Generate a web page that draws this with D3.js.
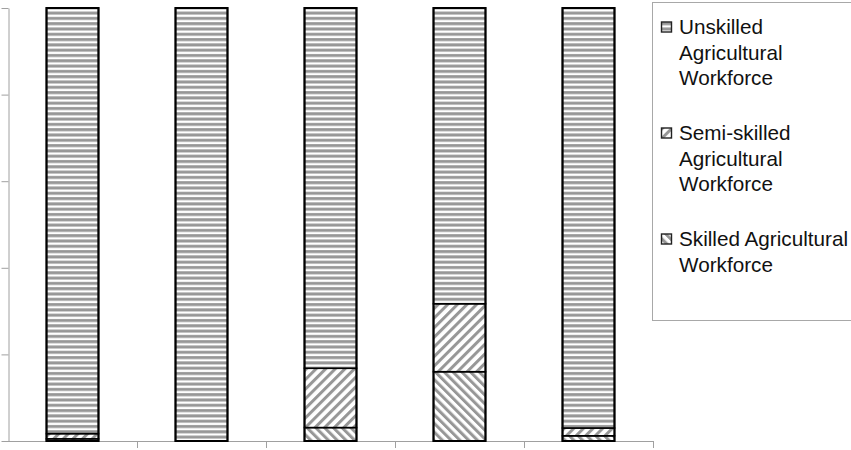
<!DOCTYPE html>
<meta charset="utf-8">
<title>Agricultural workforce</title>
<style>
  body { margin: 0; background: #fff; }
  .axis path, .axis line { stroke: #a0a0a0; stroke-width: 1px; }
  .legend text { font-family: 'Liberation Sans', Arial, sans-serif; font-size: 20.7px; fill: #111; }
</style>
<svg width="851" height="450"></svg>
<script src="https://cdn.jsdelivr.net/npm/d3@7"></script>
<script>

// values, percent of workforce per bar
var categories = ["A", "B", "C", "D", "E"];
var skilled     = [0.5, 0,   3.1,  16.0, 1.2];
var semiSkilled = [1.2, 0,   13.7, 15.7, 1.8];
var unskilled   = [98.3, 100, 83.2, 68.3, 97.0];
var yTicks = [0, 20, 40, 60, 80, 100];

var seriesKeys = ["skilled", "semi", "unskilled"];
var legendItems = [
  { key: "unskilled", lines: ["Unskilled", "Agricultural", "Workforce"] },
  { key: "semi", lines: ["Semi-skilled", "Agricultural", "Workforce"] },
  { key: "skilled", lines: ["Skilled Agricultural", "Workforce"] }
];

var rows = categories.map(function (c, i) {
  return { cat: c, skilled: skilled[i], semi: semiSkilled[i], unskilled: unskilled[i] };
});

var svg = d3.select("svg"),
    margin = { left: 8, top: 8 },
    plotW = 645,
    plotH = 433;

var defs = svg.append("defs");
var stripe = "#979797";

// horizontal stripes
var ph = defs.append("pattern").attr("id", "p-unskilled")
    .attr("patternUnits", "userSpaceOnUse").attr("width", 10).attr("height", 5.3);
ph.append("rect").attr("width", 10).attr("height", 5.3).attr("fill", "#fff");
ph.append("rect").attr("y", 1).attr("width", 10).attr("height", 3).attr("fill", stripe);

// "/" stripes
var ps = defs.append("pattern").attr("id", "p-semi")
    .attr("patternUnits", "userSpaceOnUse").attr("width", 6.8).attr("height", 10)
    .attr("patternTransform", "rotate(45)");
ps.append("rect").attr("width", 6.8).attr("height", 10).attr("fill", "#fff");
ps.append("rect").attr("width", 3).attr("height", 10).attr("fill", stripe);

// "\" stripes
var pk = defs.append("pattern").attr("id", "p-skilled")
    .attr("patternUnits", "userSpaceOnUse").attr("width", 6.2).attr("height", 10)
    .attr("patternTransform", "rotate(-45)");
pk.append("rect").attr("width", 6.2).attr("height", 10).attr("fill", "#fff");
pk.append("rect").attr("width", 3).attr("height", 10).attr("fill", stripe);

var x = d3.scaleBand()
    .domain(categories)
    .range([margin.left, margin.left + plotW])
    .paddingInner(0.597)
    .paddingOuter(0.2985);

var y = d3.scaleLinear()
    .domain([0, 100])
    .range([margin.top + plotH, margin.top]);

// axes without labels (cropped in the source)
svg.append("g")
    .attr("class", "axis")
    .attr("transform", "translate(" + (margin.left + 0.5) + ",0)")
    .call(d3.axisLeft(y).tickValues(yTicks).tickSize(7).tickSizeOuter(0).tickFormat(""));

var xTickPos = d3.range(1, categories.length + 1).map(function (i) { return margin.left + i * x.step(); });
var xAxis = svg.append("g").attr("class", "axis");
xAxis.append("line")
    .attr("x1", margin.left).attr("x2", margin.left + plotW)
    .attr("y1", y(0) + 0.5).attr("y2", y(0) + 0.5);
xAxis.selectAll(".tick").data(xTickPos).enter().append("line")
    .attr("x1", function (d) { return Math.round(d) + 0.5; })
    .attr("x2", function (d) { return Math.round(d) + 0.5; })
    .attr("y1", y(0)).attr("y2", y(0) + 7);

var stack = d3.stack().keys(seriesKeys);
var layers = stack(rows);

svg.append("g").selectAll("g")
    .data(layers)
    .enter().append("g")
    .attr("fill", function (d) { return "url(#p-" + d.key + ")"; })
  .selectAll("rect")
    .data(function (d) { return d.filter(function (v) { return v[1] - v[0] > 0; }); })
    .enter().append("rect")
    .attr("x", function (d) { return x(d.data.cat); })
    .attr("width", x.bandwidth())
    .attr("y", function (d) { return y(d[1]); })
    .attr("height", function (d) { return y(d[0]) - y(d[1]); })
    .attr("stroke", "#000")
    .attr("stroke-width", 1.6);

// outer bar outline
svg.append("g").selectAll("rect")
    .data(rows)
    .enter().append("rect")
    .attr("x", function (d) { return x(d.cat) - 1; })
    .attr("width", x.bandwidth())
    .attr("y", y(100))
    .attr("height", y(0) - y(100))
    .attr("fill", "none")
    .attr("stroke", "#000")
    .attr("stroke-width", 2)
    .attr("transform", "translate(1,0)");

// legend
var legend = svg.append("g").attr("class", "legend");
legend.append("rect")
    .attr("x", 652.5).attr("y", 2.5)
    .attr("width", 220).attr("height", 318)
    .attr("fill", "#fff").attr("stroke", "#a8a8a8");

var lineH = 25.5, groupGap = 29.5, yc = 27;
legendItems.forEach(function (item) {
  var g = legend.append("g");
  g.append("rect")
      .attr("x", 661.5).attr("y", yc - 5)
      .attr("width", 10).attr("height", 10)
      .attr("fill", "url(#p-" + item.key + ")")
      .attr("stroke", "#222").attr("stroke-width", 1.4);
  item.lines.forEach(function (t, j) {
    g.append("text")
        .attr("x", 679)
        .attr("y", yc + j * lineH)
        .attr("dy", "0.36em")
        .text(t);
  });
  yc += item.lines.length * lineH + groupGap;
});

</script>
